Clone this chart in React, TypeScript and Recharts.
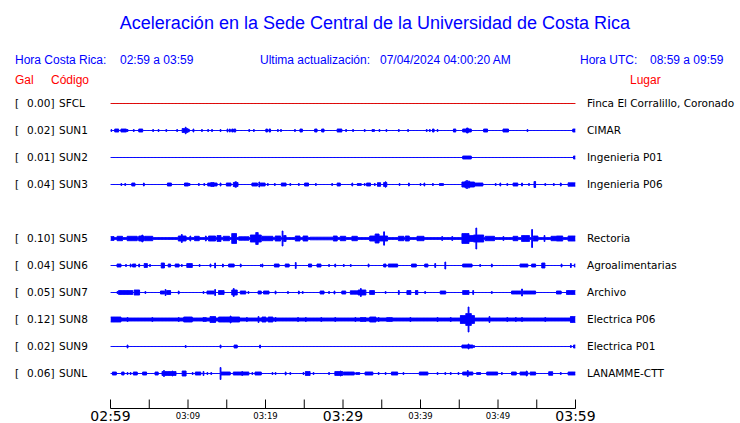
import { Area, ComposedChart, XAxis, YAxis } from "recharts";

// station rows, top to bottom
const CODES = ["SFCL", "SUN1", "SUN2", "SUN3", "SUN5", "SUN6", "SUN7", "SUN8", "SUN9", "SUNL"];
const PEAK_GAL = ["0.00", "0.02", "0.01", "0.04", "0.10", "0.04", "0.05", "0.12", "0.02", "0.06"];
const PLACES = [
  "Finca El Corralillo, Coronado",
  "CIMAR",
  "Ingenieria P01",
  "Ingenieria P06",
  "Rectoria",
  "Agroalimentarias",
  "Archivo",
  "Electrica P06",
  "Electrica P01",
  "LANAMME-CTT",
];
// slot 4 is left empty in the original layout
const ROW_SLOT = [0, 1, 2, 3, 5, 6, 7, 8, 9, 10];
// background noise half-width (gal)
const NOISE_FLOOR = [0, 0, 0, 0, 0.01, 0, 0, 0.015, 0, 0];

// bursts: [start minute, end minute, half amplitude in gal]
type Burst = [number, number, number];
const SFCL_BURSTS: Burst[] = [];
const SUN1_BURSTS: Burst[] = [
  [0.1, 0.1, 0.01], [0.6, 1.0, 0.015], [1.4, 2.0, 0.015], [2.2, 2.2, 0.01], [3.0, 3.0, 0.01],
  [3.7, 4.1, 0.015], [5.5, 5.5, 0.01], [6.2, 6.2, 0.01], [7.2, 7.2, 0.01], [8.6, 8.6, 0.01],
  [9.3, 9.9, 0.02], [9.7, 9.7, 0.033], [10.1, 10.1, 0.015], [10.7, 10.7, 0.015], [11.8, 11.8, 0.01],
  [12.6, 12.6, 0.01], [13.1, 13.1, 0.01], [14.2, 14.2, 0.01], [15.1, 15.1, 0.015], [15.4, 15.4, 0.015],
  [15.7, 15.8, 0.015], [16.0, 16.1, 0.015], [17.9, 17.9, 0.01], [18.5, 18.5, 0.01], [20.1, 20.2, 0.015],
  [20.5, 20.6, 0.015], [21.6, 21.6, 0.01], [22.0, 22.0, 0.01], [23.8, 23.8, 0.01], [24.5, 24.7, 0.015],
  [26.4, 26.6, 0.015], [27.3, 27.5, 0.015], [29.3, 29.8, 0.015], [30.4, 30.4, 0.01], [31.3, 31.3, 0.01],
  [32.8, 32.8, 0.01], [33.8, 34.0, 0.01], [34.7, 34.7, 0.01], [35.6, 35.6, 0.01], [37.2, 37.2, 0.01],
  [38.4, 38.4, 0.01], [40.8, 40.8, 0.01], [41.2, 41.2, 0.01], [41.6, 41.7, 0.015], [42.2, 42.2, 0.01],
  [44.3, 44.5, 0.015], [45.5, 46.5, 0.015], [46.0, 46.1, 0.025], [48.2, 48.6, 0.015], [50.7, 51.3, 0.015],
  [53.8, 53.8, 0.01], [59.7, 60, 0.015],
];
const SUN2_BURSTS: Burst[] = [[45.5, 46.5, 0.015], [59.8, 60, 0.015]];
const SUN3_BURSTS: Burst[] = [
  [1.4, 1.4, 0.01], [1.9, 1.9, 0.01], [2.8, 3.1, 0.015], [4.3, 4.3, 0.015], [7.4, 7.8, 0.015],
  [9.6, 10.0, 0.015], [10.2, 10.2, 0.01], [11.4, 11.4, 0.01], [12.1, 12.1, 0.01], [12.6, 13.7, 0.015],
  [13.0, 13.3, 0.02], [14.2, 14.2, 0.015], [15.0, 15.5, 0.015], [15.9, 16.4, 0.02], [16.1, 16.2, 0.027],
  [18.3, 18.9, 0.015], [19.2, 19.2, 0.025], [19.4, 19.9, 0.015], [20.3, 20.3, 0.01], [21.2, 21.2, 0.01],
  [22.1, 22.6, 0.015], [23.2, 23.2, 0.01], [24.3, 24.3, 0.01], [25.1, 25.5, 0.015], [26.5, 26.5, 0.01],
  [28.6, 28.6, 0.01], [29.3, 29.6, 0.015], [31.2, 31.2, 0.015], [31.9, 32.3, 0.01], [32.8, 32.8, 0.01],
  [33.1, 33.5, 0.015], [34.1, 34.1, 0.01], [34.5, 34.8, 0.018], [35.3, 35.6, 0.02], [35.5, 35.5, 0.027],
  [37.3, 37.3, 0.01], [38.5, 38.5, 0.015], [40.0, 40.0, 0.01], [40.5, 40.5, 0.015], [41.6, 41.6, 0.01],
  [42.5, 42.9, 0.01], [45.4, 46.9, 0.025], [45.8, 46.3, 0.033], [46.0, 46.0, 0.04], [46.8, 48.0, 0.015],
  [49.7, 49.7, 0.01], [50.3, 50.3, 0.015], [51.2, 51.2, 0.01], [52.0, 52.5, 0.015], [53.1, 53.1, 0.015],
  [54.0, 54.0, 0.01], [54.7, 54.8, 0.03], [56.1, 56.1, 0.01], [57.2, 57.2, 0.01], [58.1, 58.1, 0.015],
  [59.1, 60, 0.017],
];
const SUN5_BURSTS: Burst[] = [
  [0, 0.4, 0.02], [0.9, 1.5, 0.022], [2.2, 3.4, 0.022], [3.7, 4.3, 0.025], [4.1, 4.1, 0.035],
  [4.5, 5.4, 0.022], [8.8, 9.7, 0.025], [9.2, 9.2, 0.04], [10.3, 10.3, 0.025], [10.9, 11.4, 0.022],
  [12.3, 12.3, 0.025], [12.7, 13.5, 0.025], [13.8, 14.2, 0.03], [14.6, 15.3, 0.022], [15.7, 16.2, 0.05],
  [16.6, 17.8, 0.018], [18.1, 19.4, 0.035], [18.8, 19.0, 0.06], [19.6, 20.9, 0.022], [21.3, 21.9, 0.025],
  [22.2, 22.2, 0.075], [22.4, 22.6, 0.03], [23.9, 24.4, 0.025], [24.9, 25.4, 0.025], [25.8, 28.6, 0.013],
  [28.8, 29.2, 0.025], [29.7, 30.3, 0.022], [31.2, 31.8, 0.022], [33.5, 35.7, 0.025], [34.2, 34.6, 0.045],
  [35.3, 35.3, 0.067], [37.2, 37.8, 0.022], [38.1, 38.5, 0.025], [39.6, 40.4, 0.022], [42.8, 42.8, 0.02],
  [44.1, 44.1, 0.02], [45.4, 46.2, 0.05], [46.2, 46.9, 0.03], [46.9, 48.1, 0.035], [47.2, 47.2, 0.105],
  [48.4, 49.5, 0.022], [50.7, 50.7, 0.02], [52.0, 52.5, 0.022], [53.1, 54.0, 0.03], [54.4, 54.4, 0.09],
  [54.6, 55.1, 0.025], [56.0, 56.0, 0.03], [56.9, 57.5, 0.022], [57.6, 58.3, 0.025], [59.1, 60, 0.025],
];
const SUN6_BURSTS: Burst[] = [
  [0.9, 1.3, 0.015], [2.0, 2.0, 0.01], [2.6, 2.6, 0.015], [2.9, 3.2, 0.015], [3.7, 3.7, 0.015],
  [4.4, 4.7, 0.02], [5.1, 5.1, 0.01], [6.6, 6.9, 0.025], [7.5, 7.7, 0.015], [8.4, 8.8, 0.015],
  [9.2, 9.2, 0.01], [9.9, 10.5, 0.02], [11.5, 11.5, 0.01], [12.9, 12.9, 0.015], [13.5, 13.5, 0.025],
  [14.5, 14.5, 0.015], [15.3, 15.9, 0.015], [16.8, 16.8, 0.015], [19.4, 19.4, 0.01], [19.6, 19.6, 0.015],
  [21.2, 21.7, 0.015], [22.6, 23.0, 0.015], [23.9, 23.9, 0.03], [25.6, 25.9, 0.015], [26.7, 27.1, 0.015],
  [28.2, 28.2, 0.01], [29.0, 29.0, 0.015], [30.1, 30.1, 0.01], [31.0, 31.0, 0.01], [33.3, 33.3, 0.015],
  [35.3, 35.5, 0.015], [35.9, 37.0, 0.015], [38.9, 39.4, 0.015], [40.6, 40.9, 0.015], [41.9, 41.9, 0.02],
  [43.2, 43.2, 0.035], [45.5, 46.6, 0.015], [47.7, 47.7, 0.01], [49.2, 49.2, 0.015], [52.9, 53.8, 0.015],
  [54.4, 54.8, 0.015], [55.7, 56.0, 0.025], [58.2, 58.2, 0.015], [59.4, 59.4, 0.02], [59.9, 60, 0.015],
];
const SUN7_BURSTS: Burst[] = [
  [0.9, 0.9, 0.01], [1.1, 2.8, 0.02], [3.1, 3.7, 0.025], [4.5, 4.5, 0.01], [6.5, 6.9, 0.015],
  [7.1, 7.1, 0.03], [7.3, 7.7, 0.02], [8.8, 8.8, 0.015], [12.0, 12.0, 0.01], [12.5, 13.3, 0.015],
  [13.5, 13.5, 0.03], [14.0, 14.6, 0.02], [15.7, 16.3, 0.025], [15.9, 15.9, 0.04], [16.8, 17.4, 0.015],
  [17.8, 17.8, 0.01], [19.1, 19.4, 0.015], [19.8, 20.4, 0.015], [21.3, 21.3, 0.015], [22.9, 22.9, 0.01],
  [24.3, 24.3, 0.015], [24.8, 24.8, 0.01], [27.1, 27.5, 0.015], [28.2, 28.2, 0.01], [28.9, 28.9, 0.015],
  [29.9, 30.3, 0.015], [31.0, 32.0, 0.017], [32.0, 32.9, 0.025], [32.3, 32.3, 0.04], [33.5, 34.0, 0.02],
  [35.5, 35.5, 0.01], [37.2, 37.2, 0.02], [38.3, 38.7, 0.02], [39.4, 39.6, 0.02], [40.6, 40.6, 0.01],
  [42.6, 43.2, 0.015], [45.5, 46.2, 0.02], [46.8, 46.8, 0.02], [49.2, 49.2, 0.01], [51.8, 52.9, 0.015],
  [53.1, 53.1, 0.035], [53.3, 54.8, 0.015], [57.6, 58.1, 0.015], [58.9, 60, 0.02],
];
const SUN8_BURSTS: Burst[] = [
  [0, 1.3, 0.025], [2.2, 2.2, 0.02], [5.4, 5.4, 0.02], [8.8, 8.8, 0.02], [9.5, 10.5, 0.025],
  [12.0, 12.3, 0.02], [12.9, 13.5, 0.03], [14.0, 16.6, 0.025], [15.5, 15.5, 0.035], [17.6, 17.6, 0.02],
  [19.1, 19.1, 0.03], [19.6, 20.0, 0.025], [20.4, 20.9, 0.025], [21.3, 21.3, 0.02], [24.2, 24.2, 0.02],
  [25.2, 25.2, 0.02], [27.2, 27.2, 0.02], [29.0, 29.0, 0.02], [31.6, 31.6, 0.02], [32.3, 32.9, 0.02],
  [33.5, 34.2, 0.025], [34.6, 34.6, 0.02], [35.7, 36.3, 0.02], [38.7, 38.7, 0.02], [42.2, 42.2, 0.02],
  [43.9, 43.9, 0.02], [45.2, 46.9, 0.04], [45.9, 46.5, 0.06], [46.2, 46.2, 0.125], [48.9, 48.9, 0.03],
  [51.2, 51.2, 0.02], [52.3, 52.3, 0.02], [53.1, 53.1, 0.02], [56.1, 56.1, 0.02], [59.4, 60, 0.03],
];
const SUN9_BURSTS: Burst[] = [
  [2.2, 2.2, 0.015], [9.7, 9.7, 0.01], [14.2, 14.2, 0.015], [16.0, 16.3, 0.015], [19.3, 19.3, 0.015],
  [45.4, 46.7, 0.015], [46.2, 46.2, 0.025], [46.9, 46.9, 0.01], [59.4, 59.4, 0.01], [59.8, 60, 0.015],
];
const SUNL_BURSTS: Burst[] = [
  [0.3, 0.7, 0.015], [1.5, 1.7, 0.015], [2.2, 2.2, 0.01], [2.6, 2.6, 0.01], [3.0, 3.4, 0.015],
  [4.2, 4.6, 0.015], [5.8, 6.1, 0.015], [6.7, 8.4, 0.02], [6.9, 6.9, 0.03], [8.0, 8.0, 0.025],
  [9.3, 9.7, 0.025], [10.6, 10.6, 0.01], [11.0, 11.6, 0.015], [12.0, 12.0, 0.02], [12.5, 12.5, 0.01],
  [13.0, 13.0, 0.01], [14.2, 14.2, 0.06], [14.3, 15.4, 0.015], [15.9, 17.8, 0.015], [17.0, 17.0, 0.02],
  [18.3, 18.3, 0.01], [18.7, 19.4, 0.015], [20.9, 20.9, 0.01], [21.3, 21.3, 0.01], [22.6, 22.6, 0.015],
  [23.2, 23.2, 0.01], [24.9, 24.9, 0.01], [25.2, 25.7, 0.02], [26.2, 26.2, 0.01], [28.2, 28.2, 0.01],
  [29.0, 29.9, 0.02], [29.7, 29.7, 0.025], [30.1, 31.4, 0.015], [31.7, 32.1, 0.01], [32.9, 33.8, 0.015],
  [34.6, 34.6, 0.01], [35.5, 35.5, 0.01], [36.3, 37.0, 0.015], [37.8, 37.8, 0.01], [39.9, 40.9, 0.015],
  [42.2, 42.2, 0.01], [43.2, 43.2, 0.01], [43.9, 43.9, 0.01], [44.9, 44.9, 0.01], [45.5, 46.7, 0.015],
  [46.1, 46.1, 0.03], [47.3, 47.7, 0.01], [48.6, 49.9, 0.015], [50.5, 50.5, 0.01], [51.8, 52.3, 0.015],
  [52.9, 53.8, 0.015], [53.7, 53.7, 0.025], [54.2, 54.8, 0.015], [56.6, 57.0, 0.018], [58.1, 58.1, 0.01],
  [59.1, 60, 0.015],
];
const BURSTS = [
  SFCL_BURSTS, SUN1_BURSTS, SUN2_BURSTS, SUN3_BURSTS, SUN5_BURSTS,
  SUN6_BURSTS, SUN7_BURSTS, SUN8_BURSTS, SUN9_BURSTS, SUNL_BURSTS,
];

// minutes after 02:59
const TICK_MIN = [0, 5, 10, 15, 20, 25, 30, 35, 40, 45, 50, 55, 60];
const TICK_LABELS = ["02:59", "", "03:09", "", "03:19", "", "03:29", "", "03:39", "", "03:49", "", "03:59"];

const BLUE = "#0000ff";
const RED = "#ff0000";
const TRACE_RED = "#dd0000";

// 100 px per gal; rows 27 px apart
const TOP_BASE = 3.05;
const ROW_GAL = 0.27;
const baseOf = (i: number) => TOP_BASE - ROW_SLOT[i] * ROW_GAL;

const chartData = (() => {
  const out: Record<string, any>[] = [];
  for (let k = 0; k <= 600; k++) {
    const t = k / 10;
    const row: Record<string, any> = { t };
    CODES.forEach((code, i) => {
      let a = NOISE_FLOOR[i];
      for (const [s, e, amp] of BURSTS[i]) {
        if (t >= s - 0.051 && t <= e + 0.051 && amp > a) a = amp;
      }
      const b = baseOf(i);
      row[code] = [b - a, b + a];
    });
    out.push(row);
  }
  return out;
})();

function TimeTick({ x, y, payload }: any) {
  const idx = TICK_MIN.indexOf(payload.value);
  const label = TICK_LABELS[idx];
  const major = idx % 6 === 0;
  return (
    <g>
      <line x1={x} x2={x} y1={y - 9} y2={y} stroke="#000" strokeWidth={1} />
      {label && (
        <text
          x={x}
          y={major ? y + 12 : y + 10}
          textAnchor="middle"
          fontFamily="DejaVu Sans"
          fontSize={major ? 14 : 8.5}
          fill="#000"
        >
          {label}
        </text>
      )}
    </g>
  );
}

const headFont = "'Liberation Sans', Arial, sans-serif";
const rowFont = "'DejaVu Sans', sans-serif";

export default function App() {
  return (
    <div style={{ position: "relative", width: 740, height: 423, background: "#fff" }}>
      <style>{`body{margin:0}`}</style>
      <ComposedChart
        width={740}
        height={423}
        data={chartData}
        margin={{ top: 75.5, right: 164.5, bottom: 0, left: 110.5 }}
      >
        <XAxis
          dataKey="t"
          type="number"
          domain={[0, 60]}
          ticks={TICK_MIN}
          interval={0}
          height={14.5}
          tickSize={0}
          tickMargin={0}
          tickLine={false}
          axisLine={{ stroke: "#000" }}
          tick={<TimeTick />}
          allowDataOverflow
        />
        <YAxis type="number" domain={[0, 3.33]} hide allowDataOverflow />
        {CODES.map((code, i) => {
          const color = i === 0 ? TRACE_RED : BLUE;
          return (
            <Area
              key={code}
              dataKey={code}
              type="step"
              stroke={color}
              strokeWidth={1}
              fill={color}
              fillOpacity={1}
              dot={false}
              activeDot={false}
              isAnimationActive={false}
            />
          );
        })}
      </ComposedChart>
      <svg
        width={740}
        height={423}
        style={{ position: "absolute", left: 0, top: 0, pointerEvents: "none" }}
      >
        <text x={375} y={29} textAnchor="middle" fontFamily={headFont} fontSize={18} fill={BLUE}>
          Aceleración en la Sede Central de la Universidad de Costa Rica
        </text>
        <g fontFamily={headFont} fontSize={12} fill={BLUE}>
          <text x={15} y={64}>Hora Costa Rica:</text>
          <text x={120} y={64}>02:59 a 03:59</text>
          <text x={260} y={64}>Ultima actualización:</text>
          <text x={380} y={64}>07/04/2024 04:00:20 AM</text>
          <text x={580} y={64}>Hora UTC:</text>
          <text x={650} y={64}>08:59 a 09:59</text>
        </g>
        <g fontFamily={headFont} fontSize={12} fill={RED}>
          <text x={15} y={84}>Gal</text>
          <text x={51} y={84}>Código</text>
          <text x={630} y={84}>Lugar</text>
        </g>
        <g fontFamily={rowFont} fontSize={10.5} fill="#000">
          {CODES.map((code, i) => {
            const y = 103 + ROW_SLOT[i] * 27 + 4;
            return (
              <g key={code}>
                <text x={15} y={y}>[</text>
                <text x={54.5} y={y} textAnchor="end">{PEAK_GAL[i]}]</text>
                <text x={59} y={y}>{code}</text>
                <text x={587} y={y}>{PLACES[i]}</text>
              </g>
            );
          })}
        </g>
      </svg>
    </div>
  );
}
